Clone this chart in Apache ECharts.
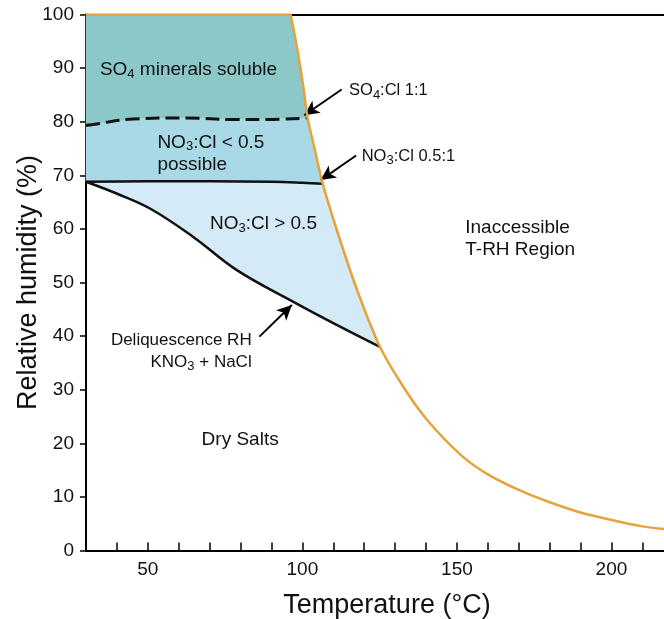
<!DOCTYPE html>
<html>
<head>
<meta charset="utf-8">
<script src="https://cdn.jsdelivr.net/npm/echarts@6/dist/echarts.min.js"></script>
<style>
  html, body { margin: 0; padding: 0; background: #fff; }
  #main { width: 664px; height: 619px; }
</style>
</head>
<body>
<div id="main"></div>
<script>
// T-RH boundary (orange)
const boundaryT  = [30, 96.2, 98.1, 100.3, 101.7, 104.1, 106.6, 111.2, 117.7, 125.1, 132.7, 140.3, 151.5, 160, 170, 180, 190, 200, 210, 217];
const boundaryRH = [100, 100, 94.4, 86.6, 80.7, 74.6, 68.4, 59.7, 48.6, 38.0, 30.5, 24.4, 17.7, 14.2, 11.3, 9.0, 7.1, 5.7, 4.5, 4.0];

// SO4:Cl 1:1 (dashed)
const so4T  = [30, 31.3, 45.3, 62.6, 77.7, 88.5, 101.7];
const so4RH = [79.3, 79.4, 80.5, 80.7, 80.4, 80.4, 80.7];

// NO3:Cl 0.5:1
const no3T  = [30, 50, 70, 90, 100, 106.6];
const no3RH = [68.8, 68.9, 68.9, 68.8, 68.6, 68.4];

// Deliquescence RH KNO3 + NaCl
const delT  = [30, 39.9, 50.7, 64.7, 78.8, 97.1, 111.1, 125.1];
const delRH = [68.8, 66.6, 63.8, 58.5, 52.3, 46.4, 42.1, 38.0];

const xLabels = [50, 100, 150, 200];
const xTicks = [40, 50, 60, 70, 80, 90, 100, 110, 120, 130, 140, 150, 160, 170, 180, 190, 200, 210];

const zip = (a, b) => a.map((v, i) => [v, b[i]]);
const boundary = zip(boundaryT, boundaryRH);
const so4 = zip(so4T, so4RH);
const no3 = zip(no3T, no3RH);
const del = zip(delT, delRH);
const seg = (pts, lo, hi) => pts.filter(p => p[0] >= lo && p[0] <= hi);

// regions
const regions = [
  { color: '#8cc8c8', pts: [].concat(seg(boundary, 30, 101.7), so4.slice().reverse()) },
  { color: '#a9d8e6', pts: [].concat(so4, seg(boundary, 101.7, 106.6).slice(1), no3.slice().reverse()) },
  { color: '#d4eaf7', pts: [].concat(no3, seg(boundary, 106.6, 125.1).slice(1), del.slice().reverse()) }
];

const FONT = '"Liberation Sans", Arial, sans-serif';
const notes = [
  { T: 34.5, RH: 89.7, text: 'SO{sub|4} minerals soluble', align: 'left', size: 19 },
  { T: 53.1, RH: 74.1, text: 'NO{sub|3}:Cl < 0.5\npossible', align: 'left', size: 19 },
  { T: 70.1, RH: 60.9, text: 'NO{sub|3}:Cl > 0.5', align: 'left', size: 19 },
  { T: 83.6, RH: 37.2, text: 'Deliquescence RH\nKNO{sub|3} + NaCl', align: 'right', size: 17 },
  { T: 67.4, RH: 20.6, text: 'Dry Salts', align: 'left', size: 19 },
  { T: 152.7, RH: 58.2, text: 'Inaccessible\nT-RH Region', align: 'left', size: 19 },
  { T: 115.1, RH: 85.8, text: 'SO{sub|4}:Cl 1:1', align: 'left', size: 16.5 },
  { T: 119.2, RH: 73.6, text: 'NO{sub|3}:Cl 0.5:1', align: 'left', size: 16.5 }
];

const arrows = [
  [[112.7, 86.0], [100.6, 81.2]],
  [[117.4, 73.7], [105.9, 69.1]],
  [[86.1, 39.9], [96.6, 45.8]]
];

const chart = echarts.init(document.getElementById('main'));

const lineBase = {
  type: 'line', symbol: 'none', silent: true, animation: false, z: 5
};

chart.setOption({
  animation: false,
  grid: { left: 86, right: 0, top: 14.5, bottom: 68.5, containLabel: false, outerBoundsMode: 'none' },
  xAxis: [{
    type: 'value', min: 30, max: 217,
    axisLine: { lineStyle: { color: '#000', width: 2 } },
    axisTick: { inside: true, length: 8, customValues: xTicks, lineStyle: { color: '#000', width: 1.5 } },
    axisLabel: { margin: 10, fontSize: 19, color: '#111', fontFamily: FONT, customValues: xLabels },
    splitLine: { show: false },
    name: 'Temperature (°C)', nameLocation: 'middle', nameGap: 42,
    nameTextStyle: { fontSize: 27, color: '#111', fontFamily: FONT, padding: [0, 0, 0, 24] }
  }, {
    type: 'value', min: 30, max: 217, position: 'top',
    axisLine: { show: true, lineStyle: { color: '#000', width: 2 } },
    axisTick: { show: false }, axisLabel: { show: false }, splitLine: { show: false }
  }],
  yAxis: {
    type: 'value', min: 0, max: 100, interval: 10,
    axisLine: { show: true, lineStyle: { color: '#000', width: 2 } },
    axisTick: { show: true, length: 6, lineStyle: { color: '#000', width: 1.5 } },
    axisLabel: { margin: 12, fontSize: 19, color: '#111', fontFamily: FONT },
    splitLine: { show: false },
    name: 'Relative humidity (%)', nameLocation: 'middle', nameGap: 44, nameMoveOverlap: false,
    nameTextStyle: { fontSize: 27, color: '#111', fontFamily: FONT }
  },
  series: [
    {
      type: 'custom', silent: true, z: 1,
      data: regions.map((r, i) => [i]),
      renderItem: (params, api) => {
        const r = regions[params.dataIndex];
        return {
          type: 'polygon',
          shape: { points: r.pts.map(p => api.coord(p)) },
          style: { fill: r.color, stroke: r.color, lineWidth: 0.5 }
        };
      }
    },
    Object.assign({}, lineBase, {
      data: so4, smooth: 0.4,
      lineStyle: { color: '#111', width: 3, type: [14, 6] }
    }),
    Object.assign({}, lineBase, {
      data: no3, smooth: 0.4,
      lineStyle: { color: '#111', width: 2.5 }
    }),
    Object.assign({}, lineBase, {
      data: del, smooth: 0.4,
      lineStyle: { color: '#111', width: 2.5 }
    }),
    Object.assign({}, lineBase, {
      data: boundary.slice(0, 2),
      lineStyle: { color: '#e8a23a', width: 2.5 }, z: 6
    }),
    Object.assign({}, lineBase, {
      data: boundary.slice(1), smooth: 0.3,
      lineStyle: { color: '#e8a23a', width: 2.5 }, z: 6,
      markLine: {
        silent: true, animation: false,
        symbol: ['none', 'arrow'], symbolSize: [11, 15],
        label: { show: false },
        lineStyle: { color: '#000', width: 2, type: 'solid' },
        emphasis: { disabled: true },
        data: arrows.map(a => [{ coord: a[0] }, { coord: a[1] }])
      }
    }),
    {
      type: 'custom', silent: true, z: 10,
      data: notes.map(n => [n.T, n.RH]),
      renderItem: (params, api) => {
        const n = notes[params.dataIndex];
        const p = api.coord([n.T, n.RH]);
        return {
          type: 'text', x: p[0], y: p[1],
          style: {
            text: n.text, align: n.align, verticalAlign: 'middle',
            fontSize: n.size, fontFamily: FONT, fill: '#111', lineHeight: 22,
            rich: { sub: { fontSize: 13, lineHeight: 10, verticalAlign: 'bottom', fontFamily: FONT, fill: '#111' } }
          }
        };
      }
    }
  ]
});
</script>
</body>
</html>
